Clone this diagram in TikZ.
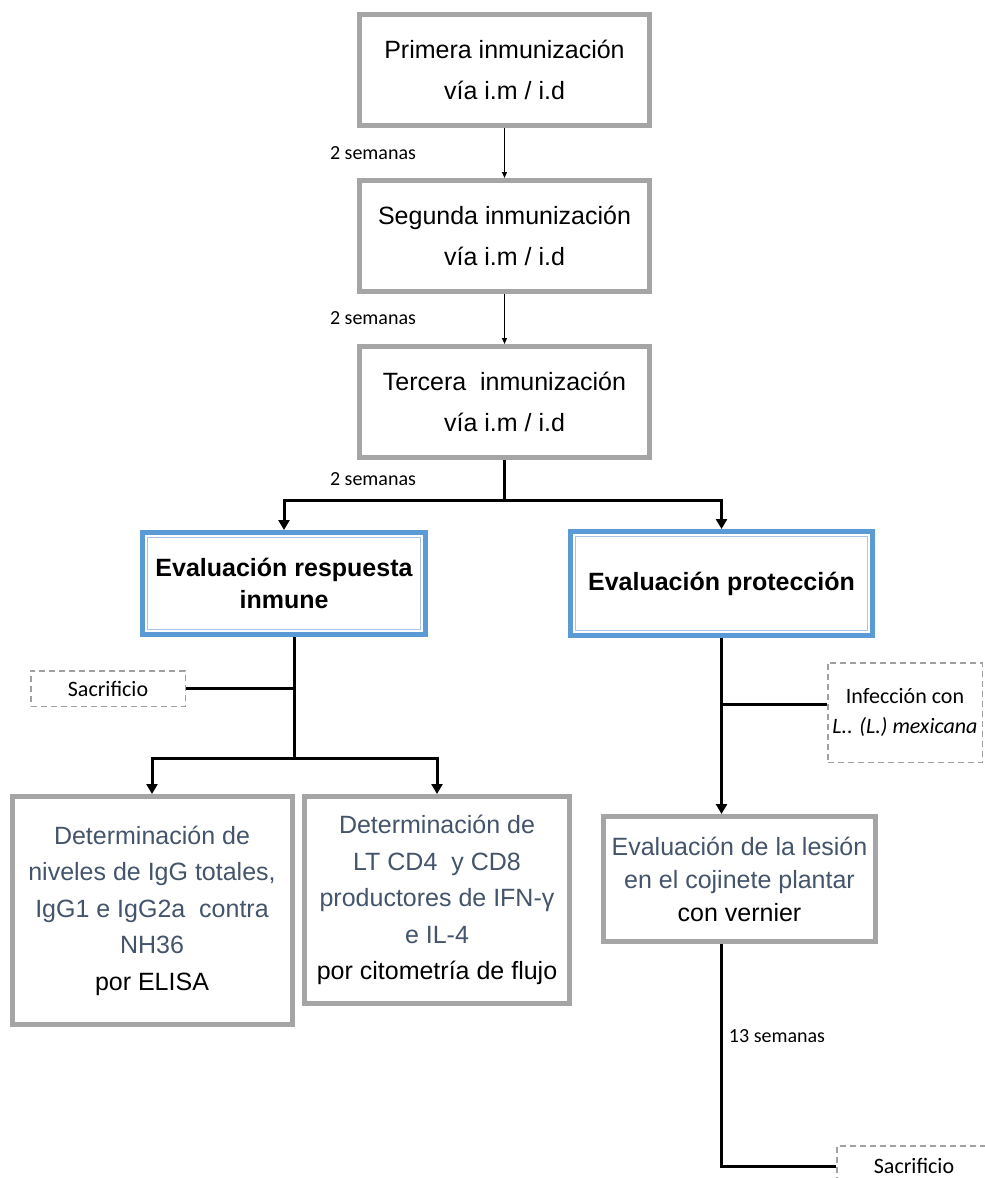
\documentclass[tikz,border=0pt]{standalone}
\usepackage{fontspec}
\setmainfont{Liberation Sans}
\newfontfamily\calibri{Carlito}
\usetikzlibrary{positioning, arrows.meta}

\definecolor{boxgray}{RGB}{165,165,165}
\definecolor{evalblue}{RGB}{91,155,213}
\definecolor{evalline}{RGB}{165,198,230}
\definecolor{textslate}{RGB}{68,84,106}
\definecolor{dashgray}{RGB}{160,160,160}

\begin{document}
\begin{tikzpicture}[%
    x=1pt, y=-1pt,
    >={Triangle[length=10pt, width=11pt]},
    on grid,
    stepbox/.style={draw=boxgray, line width=5pt, fill=white, align=center,
      inner sep=0pt, minimum width=290pt, minimum height=111pt,
      font=\fontsize{25}{41}\selectfont},
    evalbox/.style={draw=evalblue, line width=5pt, fill=white, align=center,
      inner sep=0pt, font=\fontsize{25}{32}\selectfont\bfseries,
      path picture={\draw[evalline, line width=1.2pt]
        ([shift={(5pt,-5pt)}]path picture bounding box.north west) rectangle
        ([shift={(-5pt,5pt)}]path picture bounding box.south east);}},
    detbox/.style={draw=boxgray, line width=5pt, fill=white, align=center,
      inner sep=0pt, text=textslate, font=\fontsize{25}{36.5}\selectfont},
    notebox/.style={draw=dashgray, dash pattern=on 6pt off 4pt, line width=1.5pt,
      fill=white, align=center, inner sep=0pt, minimum width=154.5pt,
      font=\calibri\fontsize{22}{30}\selectfont},
    weeks/.style={font=\calibri\fontsize{20}{24}\selectfont, inner sep=0pt},
    link/.style={->, >={Triangle[length=6pt, width=5pt]}, line width=1.2pt},
    branch/.style={line width=3pt}
  ]

  \useasboundingbox (0,0) rectangle (985,1178);

  % immunizations
  \node[stepbox] (p1) at (504.5,70) {Primera inmunización\\vía i.m / i.d};
  \node[stepbox] (p2) [below=166pt of p1] {Segunda inmunización\\vía i.m / i.d};
  \node[stepbox] (p3) [below=166pt of p2] {Tercera~ inmunización\\vía i.m / i.d};

  \node[weeks] (w1) [below left=83pt and 131.5pt of p1] {2 semanas};
  \node[weeks] (w2) [below left=82pt and 131.5pt of p2] {2 semanas};
  \node[weeks] (w3) [below left=77pt and 131.5pt of p3] {2 semanas};

  % evaluations
  \node[evalbox, minimum width=283pt, minimum height=102pt] (resp)
    [below left=181.5pt and 220.5pt of p3] {Evaluación respuesta\\inmune};
  \node[evalbox, minimum width=302pt, minimum height=104pt] (prot)
    [right=437.5pt of resp] {Evaluación protección};

  \node[notebox, minimum height=35.5pt] (sac1) [below left=105pt and 176pt of resp] {Sacrificio};
  \node[detbox, minimum width=280pt, minimum height=228pt] (igg)
    [below left=327pt and 132pt of resp]
    {Determinación de\\niveles de IgG totales,\\IgG1 e IgG2a~ contra\\NH36\\\color{black}por ELISA};
  \node[detbox, minimum width=265pt, minimum height=207pt] (lt)
    [below right=316.5pt and 153pt of resp]
    {Determinación de\\LT CD4~ y CD8\\productores de IFN-γ\\e IL-4\\\color{black}por citometría de flujo};

  \node[notebox, minimum height=99.5pt] (inf) [below right=129pt and 183.5pt of prot]
    {Infección con\\\textit{L.. (L.) mexicana}};
  \node[detbox, minimum width=272pt, minimum height=125pt, font=\fontsize{25}{33}\selectfont] (les)
    [below right=295.5pt and 18pt of prot]
    {Evaluación de la lesión\\en el cojinete plantar\\\color{black}con vernier};
  \node[weeks] (w4) [below right=157pt and 37.5pt of les] {13 semanas};
  \node[notebox, minimum height=40pt] (sac2) [below right=287pt and 174.5pt of les] {Sacrificio};

  % connectors
  \draw[link] (p1) -- (p2);
  \draw[link] (p2) -- (p3);
  \draw[branch, ->] (p3.south) -- ++(0,40) coordinate (fork) -| (resp.north);
  \draw[branch, ->] (fork) -| (prot.north);

  \draw[branch] ([xshift=10pt]resp.south) -- ++(0,121) coordinate (split);
  \draw[branch] (sac1.east) -- (sac1.east -| split);
  \draw[branch, ->] (split) -| (igg.north);
  \draw[branch, ->] (split) -| (lt.north);

  \draw[branch, ->] (prot.south) -- (prot.south |- les.north);
  \draw[branch] ([yshift=8pt]inf.west) -- ([yshift=8pt]inf.west -| prot.south);
  \draw[branch] (prot.south |- les.south) |- (sac2.west);
\end{tikzpicture}
\end{document}
